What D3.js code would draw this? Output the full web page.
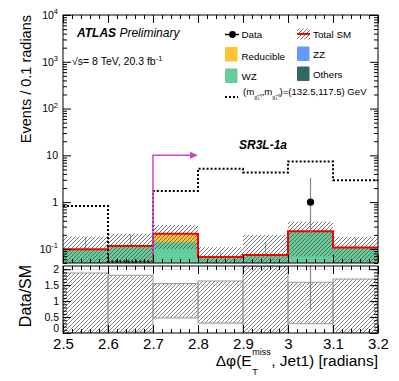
<!DOCTYPE html>
<html>
<head>
<meta charset="utf-8">
<script src="https://cdn.jsdelivr.net/npm/d3@7"></script>
<style>
body { margin: 0; background: #fff; }
svg { font-family: "Liberation Sans", Arial, Helvetica, sans-serif; }
</style>
</head>
<body>
<script>
// bins in delta phi (lower edges), 0.1 wide
const binLow = [2.5, 2.6, 2.7, 2.8, 2.9, 3.0, 3.1];
const binWidth = 0.1;

// SM backgrounds, events / 0.1 radians
const others = [0.001, 0.002, 0.001, 0.001, 0.001, 0.002, 0.001];
const zz = [0.001, 0.001, 0.002, 0.001, 0.001, 0.003, 0.002];
const wz = [0.096, 0.113, 0.137, 0.065, 0.072, 0.235, 0.104];
const reducible = [0, 0, 0.07, 0, 0, 0, 0];
const wzErr = [0.08, 0.09, 0, 0.018, 0.065, 0.09, 0.07];

// relative total SM uncertainty
const sysUp = [0.88, 0.81, 0.55, 0.63, 1.7, 0.59, 0.69];
const sysDown = [1.0, 0.97, 0.53, 0.69, 1.0, 0.71, 1.0];

// signal point (132.5, 117.5)
const signal = [0.83, 0, 1.74, 5.2, 4.3, 7.4, 2.95];

// data
const data = [0, 0, 0, 0, 0, 1, 0];
const dataErrUp = [0, 0, 0, 0, 0, 2.3, 0];
const dataErrDown = [0, 0, 0, 0, 0, 0.83, 0];

// cut arrow
const cutValue = 2.7;
const arrowEnd = 2.8;
const arrowLevel = 10;

// ticks
const xTicks = [2.5, 2.6, 2.7, 2.8, 2.9, 3.0, 3.1, 3.2];
const xTickLabels = ["2.5", "2.6", "2.7", "2.8", "2.9", "3", "3.1", "3.2"];
const yTicks = [0.1, 1, 10, 100, 1000, 10000];
const yTickBase = ["10", "1", "10", "10", "10", "10"];
const yTickExp = ["-1", "", "", "2", "3", "4"];
const ratioTicks = [0, 0.5, 1, 1.5, 2];
const ratioTickLabels = ["0", "0.5", "1", "1.5", "2"];

const W = 399, H = 381;
const padL = 63, padR = 378, mainTop = 15, mainBottom = 263, ratioTop = 266, ratioBottom = 333;

const svg = d3.select("body").append("svg").attr("width", W).attr("height", H);
const defs = svg.append("defs");

// hatch pattern
function addHatch(id, color, width) {
    defs.append("pattern")
        .attr("id", id)
        .attr("patternUnits", "userSpaceOnUse")
        .attr("width", 4).attr("height", 4)
        .append("path")
        .attr("d", "M-1,1 l2,-2 M0,4 l4,-4 M3,5 l2,-2")
        .attr("stroke", color)
        .attr("stroke-width", width);
}
addHatch("hatch", "#555", 0.8);
addHatch("hatchR", "#666", 0.8);

defs.append("clipPath").attr("id", "clipMain").append("rect")
    .attr("x", padL).attr("y", mainTop).attr("width", padR - padL).attr("height", mainBottom - mainTop);
defs.append("clipPath").attr("id", "clipRatio").append("rect")
    .attr("x", padL).attr("y", ratioTop).attr("width", padR - padL).attr("height", ratioBottom - ratioTop);

const x = d3.scaleLinear().domain([2.5, 3.2]).range([padL, padR]);
const yMin = 0.05;
const y = d3.scaleLog().domain([yMin, 1e4]).range([mainBottom, mainTop]).clamp(true);
const r = d3.scaleLinear().domain([0, 2.1]).range([ratioBottom, ratioTop]).clamp(true);

const ly = v => y(Math.max(v, yMin));

// stack the backgrounds
const rows = binLow.map((b, i) => ({
    bin: b, others: others[i], zz: zz[i], wz: wz[i], reducible: reducible[i]
}));
const keys = ["others", "zz", "wz", "reducible"];
const colors = { others: "#336666", zz: "#6699ff", wz: "#66cc99", reducible: "#fdc532" };
const stacked = d3.stack().keys(keys)(rows);
const total = binLow.map((b, i) => others[i] + zz[i] + wz[i] + reducible[i]);

const main = svg.append("g").attr("clip-path", "url(#clipMain)");

stacked.forEach(layer => {
    main.append("g")
        .selectAll("rect")
        .data(layer)
        .enter().append("rect")
        .attr("x", d => x(d.data.bin))
        .attr("width", d => x(d.data.bin + binWidth) - x(d.data.bin))
        .attr("y", d => ly(d[1]))
        .attr("height", d => ly(d[0]) - ly(d[1]))
        .attr("fill", colors[layer.key]);
});

// WZ stat error ticks
main.append("g")
    .selectAll("line")
    .data(binLow.map((b, i) => i).filter(i => wzErr[i] > 0))
    .enter().append("line")
    .attr("x1", i => x(binLow[i] + binWidth / 2))
    .attr("x2", i => x(binLow[i] + binWidth / 2))
    .attr("y1", i => ly(total[i]))
    .attr("y2", i => ly(total[i] + wzErr[i]))
    .attr("stroke", "#55c08c")
    .attr("stroke-width", 1);

// total uncertainty band
main.append("g")
    .selectAll("rect")
    .data(binLow.map((b, i) => i))
    .enter().append("rect")
    .attr("x", i => x(binLow[i]))
    .attr("width", i => x(binLow[i] + binWidth) - x(binLow[i]))
    .attr("y", i => ly(total[i] * (1 + sysUp[i])))
    .attr("height", i => ly(total[i] * (1 - sysDown[i])) - ly(total[i] * (1 + sysUp[i])))
    .attr("fill", "url(#hatch)");

function stepPoints(vals, sc) {
    const pts = [];
    vals.forEach((v, i) => {
        pts.push([x(binLow[i]), sc(v)]);
        pts.push([x(binLow[i] + binWidth), sc(v)]);
    });
    return pts;
}

// total SM line
main.append("path")
    .attr("d", d3.line()(stepPoints(total, ly)))
    .attr("fill", "none")
    .attr("stroke", "#ff0000")
    .attr("stroke-width", 2);

// signal dotted
main.append("path")
    .attr("d", d3.line()(stepPoints(signal, v => Math.min(ly(v), mainBottom - 1.5))))
    .attr("fill", "none")
    .attr("stroke", "#000")
    .attr("stroke-width", 2)
    .attr("stroke-dasharray", "2,2");

// cut arrow
const arrowY = y(arrowLevel);
main.append("path")
    .attr("d", d3.line()([[x(cutValue), mainBottom], [x(cutValue), arrowY], [x(arrowEnd) - 7, arrowY]]))
    .attr("fill", "none")
    .attr("stroke", "#cc44cc")
    .attr("stroke-width", 1.5);
main.append("path")
    .attr("d", `M${x(arrowEnd)},${arrowY} L${x(arrowEnd) - 8},${arrowY - 3.5} L${x(arrowEnd) - 8},${arrowY + 3.5} Z`)
    .attr("fill", "#cc44cc");

// data points
const dataIdx = binLow.map((b, i) => i).filter(i => data[i] > 0);
main.append("g").selectAll("line")
    .data(dataIdx)
    .enter().append("line")
    .attr("x1", i => x(binLow[i] + binWidth / 2))
    .attr("x2", i => x(binLow[i] + binWidth / 2))
    .attr("y1", i => ly(data[i] + dataErrUp[i]))
    .attr("y2", i => ly(data[i] - dataErrDown[i]))
    .attr("stroke", "#888")
    .attr("stroke-width", 1.2);
main.append("g").selectAll("circle")
    .data(dataIdx)
    .enter().append("circle")
    .attr("cx", i => x(binLow[i] + binWidth / 2))
    .attr("cy", i => ly(data[i]))
    .attr("r", 3.6)
    .attr("fill", "#000");

// ratio panel
const ratio = svg.append("g").attr("clip-path", "url(#clipRatio)");

ratio.append("g")
    .selectAll("rect")
    .data(binLow.map((b, i) => i))
    .enter().append("rect")
    .attr("x", i => x(binLow[i]))
    .attr("width", i => x(binLow[i] + binWidth) - x(binLow[i]))
    .attr("y", i => r(1 + sysUp[i]))
    .attr("height", i => r(Math.max(0, 1 - sysDown[i])) - r(1 + sysUp[i]))
    .attr("fill", "url(#hatchR)")
    .attr("stroke", "#999")
    .attr("stroke-width", 1);

ratio.append("g")
    .selectAll("line")
    .data([0.5, 1, 1.5, 2])
    .enter().append("line")
    .attr("x1", padL).attr("x2", padR)
    .attr("y1", d => r(d)).attr("y2", d => r(d))
    .attr("stroke", "#aaa")
    .attr("stroke-width", 0.8)
    .attr("stroke-dasharray", "1,2");

ratio.append("g").selectAll("line")
    .data(dataIdx)
    .enter().append("line")
    .attr("x1", i => x(binLow[i] + binWidth / 2))
    .attr("x2", i => x(binLow[i] + binWidth / 2))
    .attr("y1", i => r((data[i] + dataErrUp[i]) / total[i]))
    .attr("y2", i => r((data[i] - dataErrDown[i]) / total[i]))
    .attr("stroke", "#888")
    .attr("stroke-width", 1.2);

// frames
[[mainTop, mainBottom], [ratioTop, ratioBottom]].forEach(p => {
    svg.append("rect")
        .attr("x", padL).attr("y", p[0])
        .attr("width", padR - padL).attr("height", p[1] - p[0])
        .attr("fill", "none").attr("stroke", "#000").attr("stroke-width", 1);
});

// axes
const xMinor = d3.range(0, 36).map(i => Math.round((2.5 + i * 0.02) * 100) / 100);
const yMinor = [];
[0.01, 0.1, 1, 10, 100, 1000].forEach(d => {
    for (let k = 2; k <= 9; k++) {
        const v = d * k;
        if (v >= yMin && v <= 1e4) yMinor.push(v);
    }
});
const rMinorVals = d3.range(0, 21).map(i => i / 10);

function tickAxis(axis, tx, ty) {
    const g = svg.append("g").attr("transform", `translate(${tx},${ty})`).call(axis);
    g.select(".domain").remove();
    g.selectAll("line").attr("stroke", "#000");
    return g;
}

[[mainTop, mainBottom], [ratioTop, ratioBottom]].forEach(p => {
    tickAxis(d3.axisBottom(x).tickValues(xTicks).tickSize(-8).tickFormat(""), 0, p[1]);
    tickAxis(d3.axisBottom(x).tickValues(xMinor).tickSize(-4).tickFormat(""), 0, p[1]);
    tickAxis(d3.axisTop(x).tickValues(xTicks).tickSize(-8).tickFormat(""), 0, p[0]);
    tickAxis(d3.axisTop(x).tickValues(xMinor).tickSize(-4).tickFormat(""), 0, p[0]);
});

// x labels under the ratio
const xLab = tickAxis(d3.axisBottom(x).tickValues(xTicks).tickSize(0).tickPadding(5)
    .tickFormat((d, i) => xTickLabels[i]), 0, ratioBottom);
xLab.selectAll("text").attr("font-size", 15).attr("fill", "#000")
    .attr("font-family", "Liberation Sans, Arial, sans-serif");

// log y axis
const yLab = tickAxis(d3.axisLeft(y).tickValues(yTicks).tickSize(-8).tickPadding(5).tickFormat(""), padL, 0);
tickAxis(d3.axisLeft(y).tickValues(yMinor).tickSize(-4).tickFormat(""), padL, 0);
tickAxis(d3.axisRight(y).tickValues(yTicks).tickSize(-8).tickFormat(""), padR, 0);
tickAxis(d3.axisRight(y).tickValues(yMinor).tickSize(-4).tickFormat(""), padR, 0);
yLab.selectAll(".tick text").each(function(d, i) {
    const t = d3.select(this)
        .attr("font-size", 10.5).attr("fill", "#000")
        .attr("font-family", "Liberation Sans, Arial, sans-serif");
    t.append("tspan").text(yTickBase[i]);
    if (yTickExp[i]) {
        t.append("tspan").attr("font-size", 7.5).attr("dy", -4.5).text(yTickExp[i]);
    }
});

// ratio y axis
const rLab = tickAxis(d3.axisLeft(r).tickValues(ratioTicks).tickSize(-8).tickPadding(4)
    .tickFormat((d, i) => ratioTickLabels[i]), padL, 0);
rLab.selectAll("text").attr("font-size", 10.5).attr("fill", "#000")
    .attr("font-family", "Liberation Sans, Arial, sans-serif")
    .attr("dy", d => d === 0 ? "-0.15em" : "0.32em");
tickAxis(d3.axisLeft(r).tickValues(rMinorVals).tickSize(-4).tickFormat(""), padL, 0);
tickAxis(d3.axisRight(r).tickValues(ratioTicks).tickSize(-8).tickFormat(""), padR, 0);
tickAxis(d3.axisRight(r).tickValues(rMinorVals).tickSize(-4).tickFormat(""), padR, 0);

// axis titles
svg.append("text")
    .attr("transform", "translate(31,15) rotate(-90)")
    .attr("text-anchor", "end")
    .attr("font-size", 14.5)
    .text("Events / 0.1 radians");
svg.append("text")
    .attr("transform", "translate(31,296) rotate(-90)")
    .attr("text-anchor", "middle")
    .attr("font-size", 16)
    .text("Data/SM");

const xt = svg.append("g");
const t1 = xt.append("text").attr("font-size", 15.5).text("\u0394\u03c6(E");
const w1 = t1.node().getComputedTextLength();
const tm = xt.append("text").attr("x", w1 + 0.5).attr("y", -11).attr("font-size", 9).text("miss");
xt.append("text").attr("x", w1 + 0.5).attr("y", 9).attr("font-size", 9).text("T");
const wm = tm.node().getComputedTextLength();
const t2 = xt.append("text").attr("x", w1 + wm + 1).attr("font-size", 15.5).text(", Jet1) [radians]");
const wt = w1 + wm + 1 + t2.node().getComputedTextLength();
xt.attr("transform", `translate(${padR - wt},366)`);

// labels
const atl = svg.append("text").attr("x", 77).attr("y", 37).attr("font-size", 12).attr("font-style", "italic");
atl.append("tspan").attr("font-weight", "bold").text("ATLAS");
atl.append("tspan").text(" Preliminary");
const lum = svg.append("text").attr("x", 72).attr("y", 65).attr("font-size", 10.5);
lum.append("tspan").text("\u221As= 8 TeV, 20.3 fb");
lum.append("tspan").attr("font-size", 7.5).attr("dy", -4.5).text("-1");

svg.append("text").attr("x", 239).attr("y", 149)
    .attr("font-size", 12).attr("font-weight", "bold").attr("font-style", "italic")
    .text("SR3L-1a");

// legend
const lg = svg.append("g").attr("font-size", 9.8);
lg.append("line").attr("x1", 225).attr("x2", 239).attr("y1", 34.5).attr("y2", 34.5)
    .attr("stroke", "#000").attr("stroke-width", 1.5);
lg.append("circle").attr("cx", 232.5).attr("cy", 34.5).attr("r", 3.4).attr("fill", "#000");
lg.append("text").attr("x", 241.5).attr("y", 38).text("Data");

lg.append("rect").attr("x", 297).attr("y", 28.5).attr("width", 13).attr("height", 11).attr("fill", "url(#hatch)");
lg.append("line").attr("x1", 297).attr("x2", 310).attr("y1", 34).attr("y2", 34)
    .attr("stroke", "#ff0000").attr("stroke-width", 2);
lg.append("text").attr("x", 313).attr("y", 38).text("Total SM");

const boxes = [
    { key: "reducible", label: "Reducible", bx: 225, by: 47, tx: 241.5, ty: 59.5 },
    { key: "zz", label: "ZZ", bx: 297, by: 46.5, tx: 313, ty: 57.5 },
    { key: "wz", label: "WZ", bx: 225, by: 68.5, tx: 241.5, ty: 80 },
    { key: "others", label: "Others", bx: 297, by: 66.5, tx: 313, ty: 77.5 }
];
boxes.forEach(b => {
    lg.append("rect").attr("x", b.bx).attr("y", b.by).attr("width", 12.5).attr("height", 14.5)
        .attr("rx", 1).attr("fill", colors[b.key]);
    lg.append("text").attr("x", b.tx).attr("y", b.ty).text(b.label);
});

lg.append("line").attr("x1", 225).attr("x2", 238).attr("y1", 97).attr("y2", 97)
    .attr("stroke", "#000").attr("stroke-width", 2).attr("stroke-dasharray", "2,2");
const sl = lg.append("text").attr("x", 243).attr("y", 94.5).attr("font-size", 9.6);
sl.append("tspan").text("(m");
sl.append("tspan").attr("font-size", 6).attr("dy", 4).text("\u03c7\u0303\u2082\u2070");
sl.append("tspan").attr("dy", -4).text(",m");
sl.append("tspan").attr("font-size", 6).attr("dy", 4).text("\u03c7\u0303\u2081\u2070");
sl.append("tspan").attr("dy", -4).text(")=(132.5,117.5) GeV");
</script>
</body>
</html>
